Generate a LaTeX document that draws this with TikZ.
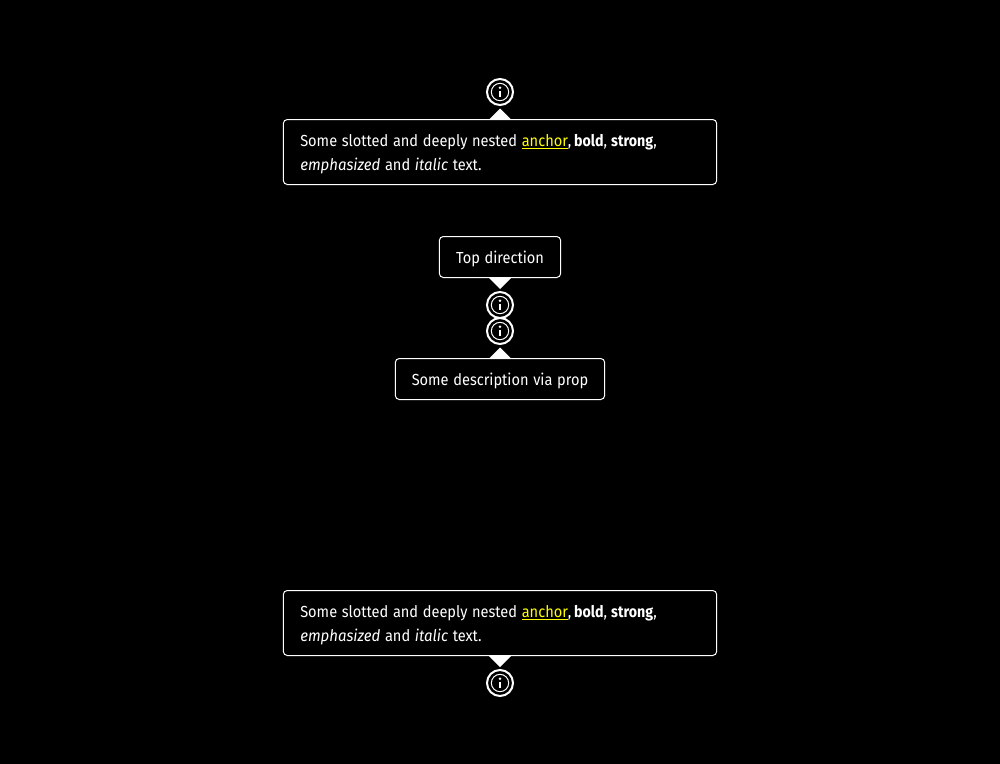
\documentclass[tikz,border=0pt]{standalone}
\usepackage{fontspec}
\setmainfont{Fira Sans}[FakeStretch=0.912,WordSpace=1.2,ItalicFeatures={FakeStretch=0.935},BoldFeatures={FakeStretch=0.89}]
\usetikzlibrary{calc}
\definecolor{linkyellow}{HTML}{FFFF00}
\newcommand{\anchorlink}{\textcolor{linkyellow}{\underline{anchor}}}
\newcommand{\richtext}{Some slotted and deeply nested \anchorlink,\hspace{-1.5pt} \textbf{bold},\hspace{-0.4pt} \textbf{strong},\\\textit{emphasized} and \textit{italic} text.}
\newcommand{\infoicon}[2]{%
  \node[ringouter] (#1) at #2 {};
  \node[ringinner] (#1in) at (#1.center) {};
  \fill[white] ($(#1.center)+(0,-4.2)$) circle[radius=1.4];
  \fill[white] ($(#1.center)+(-1,-1.5)$) rectangle ($(#1.center)+(1,5)$);
}
\tikzset{
  x=0.75pt,y=-0.75pt,
  tipbox/.style={draw=white,line width=0.75pt,rounded corners=3pt,fill=black,inner sep=0pt},
  tiptext/.style={text=white,inner sep=0pt,align=left,font=\fontsize{12}{18}\selectfont},
  ringouter/.style={circle,draw=white,line width=1.5pt,minimum size=19.5pt,inner sep=0pt},
  ringinner/.style={circle,draw=white,line width=0.75pt,minimum size=13pt,inner sep=0pt},
}
\begin{document}
\begin{tikzpicture}
\useasboundingbox[fill=black] (0,0) rectangle (1000,764);
% top tooltip
\infoicon{iconA}{(500,92)}
\fill[white] (489,119.5) -- (500,108.5) -- (511,119.5) -- cycle;
\node[tipbox,minimum width=325pt,minimum height=48.75pt] (boxA) at (500,152) {};
\node[tiptext,anchor=west] (textA) at (300,154) {\richtext};
% top direction
\fill[white] (489,278) -- (500,289) -- (511,278) -- cycle;
\node[tipbox,minimum width=91pt,minimum height=30.75pt] (boxB) at (500,257) {};
\node[tiptext] (textB) at (500,259) {Top direction};
\infoicon{iconB}{(500,305)}
\infoicon{iconC}{(500,331)}
\fill[white] (489,358.5) -- (500,347.5) -- (511,358.5) -- cycle;
\node[tipbox,minimum width=157pt,minimum height=30.75pt] (boxC) at (500,379) {};
\node[tiptext] (textC) at (500,381) {Some description via prop};
% bottom tooltip
\fill[white] (489,656) -- (500,667) -- (511,656) -- cycle;
\node[tipbox,minimum width=325pt,minimum height=48.75pt] (boxD) at (500,623) {};
\node[tiptext,anchor=west] (textD) at (300,625) {\richtext};
\infoicon{iconD}{(500,683)}
\end{tikzpicture}
\end{document}
